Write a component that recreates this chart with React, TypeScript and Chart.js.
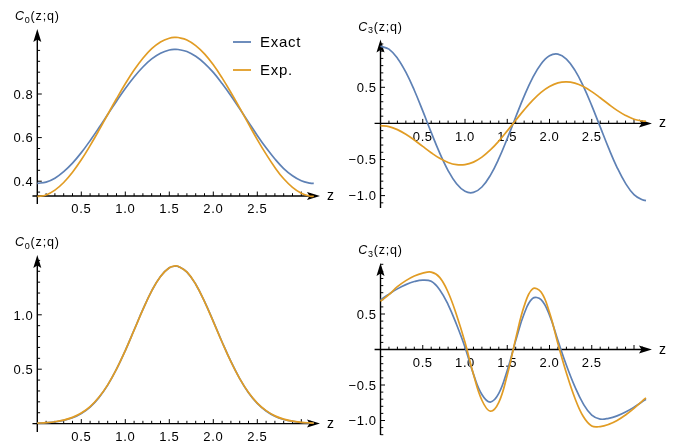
import React, { useEffect, useRef } from "react";
import { Chart, registerables } from "chart.js";
Chart.register(...registerables);

// ---------------- data ----------------
const zValues = [0, 0.1, 0.2, 0.3, 0.4, 0.5, 0.6, 0.7, 0.8, 0.9, 1.0, 1.1, 1.2, 1.3, 1.4, 1.5, 1.5708, 1.6, 1.7, 1.8, 1.9, 2.0, 2.1, 2.2, 2.3, 2.4, 2.5, 2.6, 2.7, 2.8, 2.9, 3.0, 3.1, 3.1416];

const c0TopExact = [0.390, 0.396, 0.414, 0.444, 0.483, 0.531, 0.586, 0.645, 0.706, 0.767, 0.825, 0.878, 0.924, 0.961, 0.987, 1.002, 1.005, 1.004, 0.995, 0.973, 0.941, 0.899, 0.848, 0.792, 0.732, 0.671, 0.610, 0.553, 0.502, 0.458, 0.425, 0.402, 0.391, 0.390];
const c0TopExp = [0.330, 0.337, 0.359, 0.394, 0.441, 0.498, 0.563, 0.633, 0.706, 0.778, 0.847, 0.910, 0.964, 1.008, 1.039, 1.056, 1.060, 1.059, 1.048, 1.022, 0.984, 0.934, 0.874, 0.807, 0.736, 0.663, 0.591, 0.524, 0.463, 0.411, 0.372, 0.345, 0.331, 0.330];

const c3TopExact = [1.070, 1.028, 0.904, 0.710, 0.459, 0.173, -0.125, -0.409, -0.653, -0.837, -0.941, -0.956, -0.881, -0.720, -0.489, -0.211, 0, 0.088, 0.378, 0.631, 0.823, 0.936, 0.959, 0.890, 0.738, 0.517, 0.246, -0.049, -0.343, -0.611, -0.831, -0.986, -1.059, -1.070];
const c3TopExp = [-0.030, -0.044, -0.086, -0.150, -0.230, -0.319, -0.406, -0.483, -0.541, -0.572, -0.571, -0.536, -0.467, -0.368, -0.245, -0.104, 0, 0.043, 0.188, 0.319, 0.430, 0.511, 0.561, 0.575, 0.557, 0.510, 0.440, 0.355, 0.265, 0.180, 0.110, 0.058, 0.033, 0.030];

const c0BottomExact = [0.004, 0.008, 0.015, 0.029, 0.053, 0.093, 0.152, 0.239, 0.354, 0.500, 0.671, 0.860, 1.049, 1.220, 1.353, 1.432, 1.448, 1.445, 1.393, 1.281, 1.123, 0.940, 0.750, 0.571, 0.414, 0.284, 0.186, 0.116, 0.068, 0.038, 0.020, 0.010, 0.005, 0.004];
const c0BottomExp = [0.004, 0.009, 0.017, 0.032, 0.057, 0.097, 0.156, 0.242, 0.356, 0.501, 0.671, 0.859, 1.048, 1.219, 1.353, 1.433, 1.450, 1.447, 1.394, 1.281, 1.122, 0.938, 0.748, 0.569, 0.413, 0.286, 0.189, 0.119, 0.071, 0.041, 0.022, 0.012, 0.006, 0.004];

const c3BottomExact = [0.700, 0.780, 0.854, 0.914, 0.957, 0.978, 0.960, 0.843, 0.633, 0.352, 0.033, -0.347, -0.634, -0.740, -0.619, -0.295, 0, 0.125, 0.504, 0.719, 0.703, 0.484, 0.126, -0.222, -0.523, -0.766, -0.924, -0.980, -0.969, -0.935, -0.881, -0.812, -0.734, -0.700];
const c3BottomExp = [0.680, 0.772, 0.885, 0.970, 1.035, 1.076, 1.090, 1.016, 0.806, 0.486, 0.101, -0.350, -0.715, -0.869, -0.745, -0.359, 0, 0.152, 0.611, 0.854, 0.809, 0.521, 0.080, -0.331, -0.683, -0.944, -1.077, -1.085, -1.055, -1.000, -0.922, -0.829, -0.725, -0.680];

const xMajorTicks = [0.5, 1.0, 1.5, 2.0, 2.5];
const xMajorLabels = ["0.5", "1.0", "1.5", "2.0", "2.5"];
const c0TopYTicks = [0.4, 0.6, 0.8];
const c0TopYLabels = ["0.4", "0.6", "0.8"];
const c0BottomYTicks = [0.5, 1.0];
const c0BottomYLabels = ["0.5", "1.0"];
const c3YTicks = [-1.0, -0.5, 0.5];
const c3YLabels = ["\u22121.0", "\u22120.5", "0.5"];
const seriesNames = ["Exact", "Exp."];

// ---------------- style ----------------
const BLUE = "#5E81B5";
const ORANGE = "#E19C24";
const FONT = '"Liberation Sans", Arial, Helvetica, sans-serif';

type PanelCfg = {
  left: number; top: number; width: number; height: number;
  x0px: number; ppuX: number; y0px: number; ppuY: number;
  originY: number; xAxisFrom: number; xAxisTo: number; yAxisFrom: number; yAxisTo: number;
  yTicks: number[]; yLabels: string[]; yMinorStep: number; yMinorFrom: number; yMinorTo: number;
  titleSub: string; legend: boolean; exact: number[]; exp: number[];
};

const panels: PanelCfg[] = [
  {
    left: 0, top: 0, width: 340, height: 222, x0px: 37.3, ppuX: 88, y0px: 268.4, ppuY: 218,
    originY: 0.332, xAxisFrom: -0.055, xAxisTo: 3.2125, yAxisFrom: 0.2955, yAxisTo: 1.098,
    yTicks: c0TopYTicks, yLabels: c0TopYLabels, yMinorStep: 0.05, yMinorFrom: 0.35, yMinorTo: 1.05,
    titleSub: "0", legend: true, exact: c0TopExact, exp: c0TopExp,
  },
  {
    left: 336, top: 0, width: 356, height: 222, x0px: 380.5, ppuX: 84.5, y0px: 123.4, ppuY: 72.2,
    originY: 0, xAxisFrom: -0.07, xAxisTo: 3.2125, yAxisFrom: -1.172, yAxisTo: 1.162,
    yTicks: c3YTicks, yLabels: c3YLabels, yMinorStep: 0.1, yMinorFrom: -1.1, yMinorTo: 1.1,
    titleSub: "3", legend: false, exact: c3TopExact, exp: c3TopExp,
  },
  {
    left: 0, top: 222, width: 340, height: 222, x0px: 37.3, ppuX: 88, y0px: 423.6, ppuY: 108.8,
    originY: 0, xAxisFrom: -0.055, xAxisTo: 3.2125, yAxisFrom: -0.077, yAxisTo: 1.55,
    yTicks: c0BottomYTicks, yLabels: c0BottomYLabels, yMinorStep: 0.1, yMinorFrom: 0.1, yMinorTo: 1.5,
    titleSub: "0", legend: false, exact: c0BottomExact, exp: c0BottomExp,
  },
  {
    left: 336, top: 222, width: 356, height: 222, x0px: 380.5, ppuX: 84.5, y0px: 349.5, ppuY: 71,
    originY: 0, xAxisFrom: -0.07, xAxisTo: 3.2125, yAxisFrom: -1.204, yAxisTo: 1.218,
    yTicks: c3YTicks, yLabels: c3YLabels, yMinorStep: 0.1, yMinorFrom: -1.2, yMinorTo: 1.2,
    titleSub: "3", legend: false, exact: c3BottomExact, exp: c3BottomExp,
  },
];

function makeAxesPlugin(p: PanelCfg) {
  return {
    id: "mmaAxes",
    beforeDatasetsDraw(chart: any) {
      const ctx: CanvasRenderingContext2D = chart.ctx;
      const xs = chart.scales.x;
      const ys = chart.scales.y;
      const X = (v: number) => xs.getPixelForValue(v);
      const Y = (v: number) => ys.getPixelForValue(v);
      const ox = X(0);
      const oy = Y(p.originY);
      ctx.save();
      ctx.strokeStyle = "#000";
      ctx.fillStyle = "#000";
      // x axis
      const xTip = X(p.xAxisTo);
      ctx.lineWidth = 1.4;
      ctx.beginPath();
      ctx.moveTo(X(p.xAxisFrom), oy);
      ctx.lineTo(xTip - 8, oy);
      ctx.stroke();
      ctx.beginPath();
      ctx.moveTo(xTip, oy);
      ctx.lineTo(xTip - 13, oy - 4);
      ctx.lineTo(xTip - 10.5, oy);
      ctx.lineTo(xTip - 13, oy + 4);
      ctx.closePath();
      ctx.fill();
      // y axis
      const yTip = Y(p.yAxisTo);
      ctx.beginPath();
      ctx.moveTo(ox, Y(p.yAxisFrom));
      ctx.lineTo(ox, yTip + 8);
      ctx.stroke();
      ctx.beginPath();
      ctx.moveTo(ox, yTip);
      ctx.lineTo(ox - 4, yTip + 13);
      ctx.lineTo(ox, yTip + 10.5);
      ctx.lineTo(ox + 4, yTip + 13);
      ctx.closePath();
      ctx.fill();

      // x ticks
      ctx.lineWidth = 1;
      for (let k = 1; k <= 31; k++) {
        const v = k / 10;
        const major = k % 5 === 0;
        const px = X(v);
        ctx.beginPath();
        ctx.moveTo(px, oy);
        ctx.lineTo(px, oy - (major ? 4.5 : 2.8));
        ctx.stroke();
      }
      // y ticks
      const nMin = Math.round(p.yMinorFrom / p.yMinorStep);
      const nMax = Math.round(p.yMinorTo / p.yMinorStep);
      for (let k = nMin; k <= nMax; k++) {
        const v = k * p.yMinorStep;
        if (Math.abs(v - p.originY) < 1e-6 || Math.abs(v) < 1e-6) continue;
        const major = p.yTicks.some((t) => Math.abs(t - v) < 1e-6);
        const py = Y(v);
        ctx.beginPath();
        ctx.moveTo(ox, py);
        ctx.lineTo(ox + (major ? 4.5 : 2.8), py);
        ctx.stroke();
      }

      // labels
      (ctx as any).letterSpacing = "0.6px";
      ctx.font = `13px ${FONT}`;
      ctx.textBaseline = "alphabetic";
      ctx.textAlign = "center";
      xMajorTicks.forEach((t, i) => {
        ctx.fillText(xMajorLabels[i], X(t), oy + 17.3);
      });
      ctx.textAlign = "right";
      p.yTicks.forEach((t, i) => {
        ctx.fillText(p.yLabels[i], ox - 4, Y(t) + 4.7);
      });
      // axis label z
      ctx.textAlign = "left";
      ctx.font = `14px ${FONT}`;
      ctx.fillText("z", xTip + 7, oy + 4);

      // title C_n(z;q)
      (ctx as any).letterSpacing = "0.8px";
      const bigFont = `12.5px ${FONT}`;
      const cFont = `italic 12.5px ${FONT}`;
      const subFont = `9px ${FONT}`;
      ctx.font = cFont;
      const wC = ctx.measureText("C").width;
      ctx.font = subFont;
      const wS = ctx.measureText(p.titleSub).width;
      ctx.font = bigFont;
      const wR = ctx.measureText("(z;q)").width;
      const total = wC + wS + wR;
      let tx = ox - total / 2;
      const tb = yTip - 9;
      ctx.font = cFont;
      ctx.fillText("C", tx, tb);
      tx += wC;
      ctx.font = subFont;
      ctx.fillText(p.titleSub, tx, tb + 2.8);
      tx += wS;
      ctx.font = bigFont;
      ctx.fillText("(z;q)", tx, tb);

      // legend
      if (p.legend) {
        const items = [
          { name: seriesNames[0], color: BLUE, y: 42 },
          { name: seriesNames[1], color: ORANGE, y: 70 },
        ];
        (ctx as any).letterSpacing = "0.7px";
        ctx.font = `15px ${FONT}`;
        items.forEach((it) => {
          ctx.strokeStyle = it.color;
          ctx.lineWidth = 1.8;
          ctx.beginPath();
          ctx.moveTo(233 - p.left, it.y - p.top);
          ctx.lineTo(251 - p.left, it.y - p.top);
          ctx.stroke();
          ctx.fillStyle = "#000";
          ctx.fillText(it.name, 260 - p.left, it.y - p.top + 5);
        });
      }
      ctx.restore();
    },
  };
}

function Panel({ p }: { p: PanelCfg }) {
  const ref = useRef<HTMLCanvasElement>(null);
  useEffect(() => {
    const canvas = ref.current;
    if (!canvas) return;
    const xMin = (p.left - p.x0px) / p.ppuX;
    const xMax = (p.left + p.width - p.x0px) / p.ppuX;
    const yMax = (p.y0px - p.top) / p.ppuY;
    const yMin = yMax - p.height / p.ppuY;
    const toPts = (vals: number[]) => vals.map((v, i) => ({ x: zValues[i], y: v }));
    const chart = new Chart(canvas, {
      type: "line",
      data: {
        datasets: [
          {
            label: seriesNames[0],
            data: toPts(p.exact),
            borderColor: BLUE,
            borderWidth: 1.7,
            pointRadius: 0,
            tension: 0.4,
            fill: false,
            order: 1,
          },
          {
            label: seriesNames[1],
            data: toPts(p.exp),
            borderColor: ORANGE,
            borderWidth: 1.7,
            pointRadius: 0,
            tension: 0.4,
            fill: false,
            order: 0,
          },
        ],
      },
      options: {
        animation: false,
        responsive: false,
        devicePixelRatio: 1,
        layout: { padding: 0 },
        plugins: { legend: { display: false }, tooltip: { enabled: false } },
        scales: {
          x: { type: "linear", min: xMin, max: xMax, display: false },
          y: { type: "linear", min: yMin, max: yMax, display: false },
        },
      },
      plugins: [makeAxesPlugin(p) as any],
    });
    return () => chart.destroy();
  }, [p]);
  return (
    <canvas
      ref={ref}
      width={p.width}
      height={p.height}
      style={{ position: "absolute", left: p.left, top: p.top, width: p.width, height: p.height }}
    />
  );
}

export default function App() {
  return (
    <div style={{ position: "fixed", left: 0, top: 0, width: 692, height: 444, background: "#fff" }}>
      {panels.map((p, i) => (
        <Panel key={i} p={p} />
      ))}
    </div>
  );
}
